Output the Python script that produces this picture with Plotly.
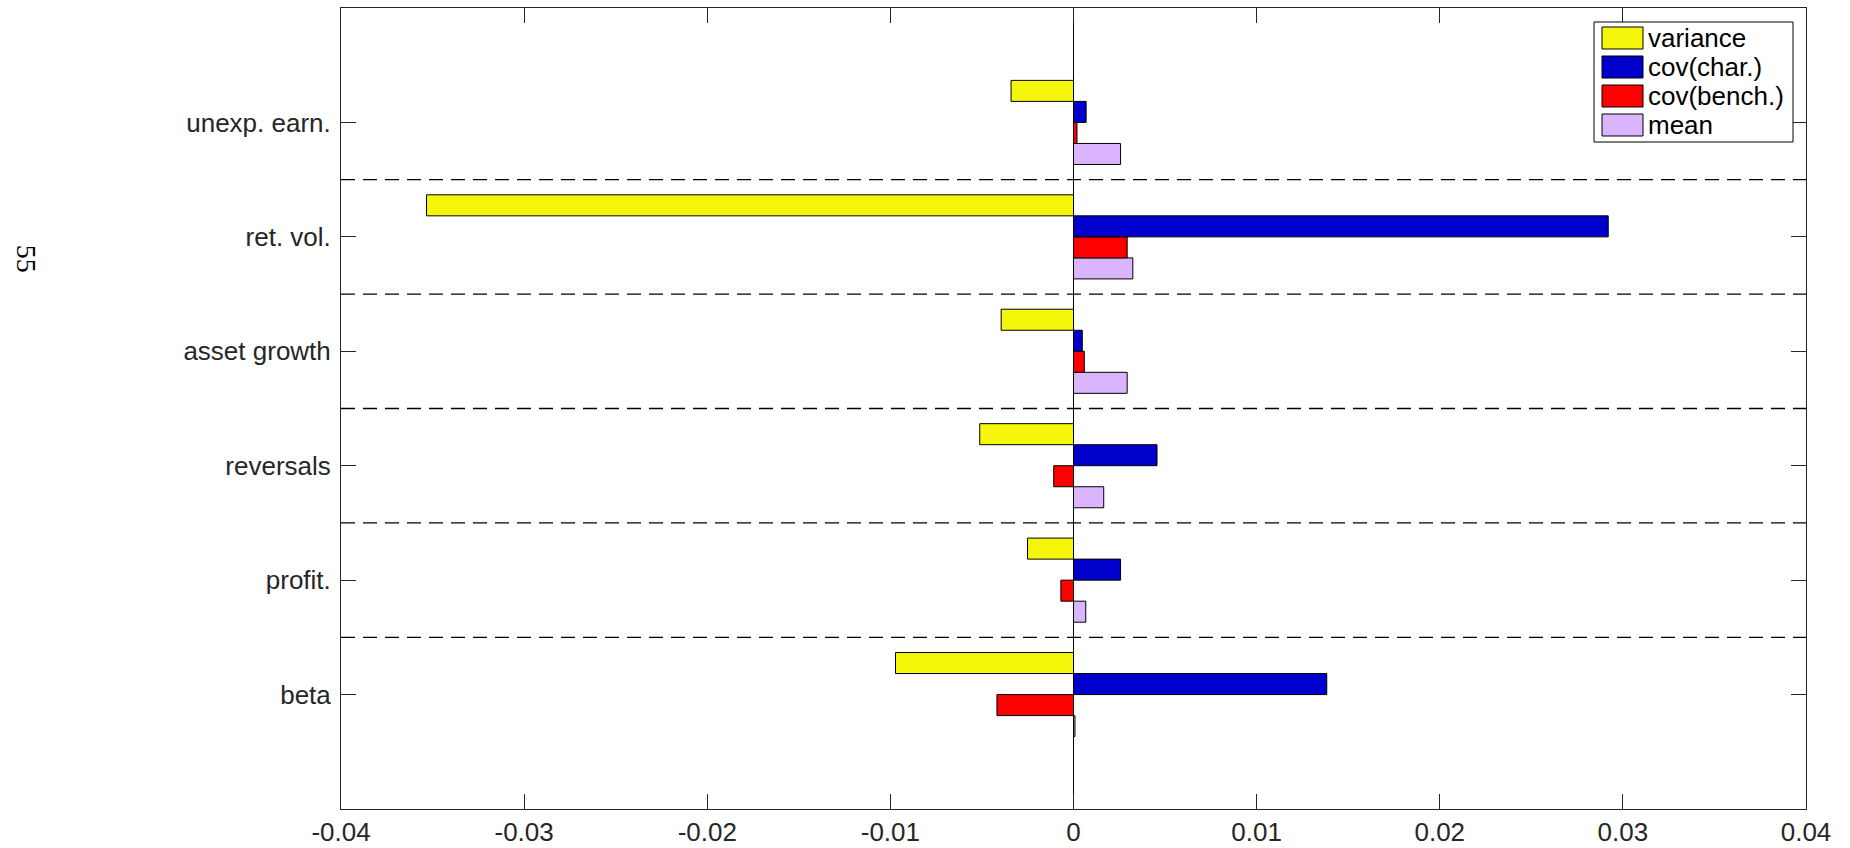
import plotly.graph_objects as go

# Categories, bottom to top
categories = ["beta", "profit.", "reversals", "asset growth", "ret. vol.", "unexp. earn."]
cat_pos = [1, 2, 3, 4, 5, 6]

variance = [-0.00972, -0.00251, -0.00512, -0.00395, -0.03533, -0.00341]
cov_char = [0.01383, 0.00257, 0.00456, 0.00048, 0.0292, 0.00069]
cov_bench = [-0.00418, -0.00069, -0.00108, 0.00059, 0.00293, 0.00019]
mean_vals = [0.00008, 0.00067, 0.00165, 0.00293, 0.00324, 0.00257]

series_names = ["variance", "cov(char.)", "cov(bench.)", "mean"]
series_values = [variance, cov_char, cov_bench, mean_vals]
series_colors = ["#F6F60A", "#0000CC", "#FF0000", "#DAB4FF"]

x_tick_vals = [-0.04, -0.03, -0.02, -0.01, 0, 0.01, 0.02, 0.03, 0.04]
x_tick_labels = ["-0.04", "-0.03", "-0.02", "-0.01", "0", "0.01", "0.02", "0.03", "0.04"]

FONT = "Liberation Sans, Arial, Helvetica, sans-serif"
AXC = "#262626"

W, H = 1850, 848
L, R, T, B = 341, 44, 8, 39


def px_x(px):
    return (px - L) / (W - L - R)


def px_y(py):
    return 1 - (py - T) / (H - T - B)


fig = go.Figure()
# add in reverse so that 'variance' sits at the top of each group
for name, vals, col in reversed(list(zip(series_names, series_values, series_colors))):
    fig.add_trace(go.Bar(
        y=cat_pos, x=vals, name=name, orientation="h", showlegend=False,
        marker=dict(color=col, line=dict(color="black", width=1)),
    ))

# dashed separators between categories
for p in cat_pos[:-1]:
    fig.add_shape(type="line", xref="x", yref="y",
                  x0=x_tick_vals[0], x1=x_tick_vals[-1], y0=p + 0.5, y1=p + 0.5,
                  line=dict(color="black", width=1.3, dash="14px,8px"), layer="below")

# legend box (MATLAB style, wide swatches)
fig.add_shape(type="rect", xref="paper", yref="paper",
              x0=px_x(1594), x1=px_x(1793), y0=px_y(142), y1=px_y(22),
              line=dict(color="black", width=1), fillcolor="white", layer="above")
for i, (name, col) in enumerate(zip(series_names, series_colors)):
    top = 27 + 29 * i
    fig.add_shape(type="rect", xref="paper", yref="paper",
                  x0=px_x(1602), x1=px_x(1643), y0=px_y(top + 22), y1=px_y(top),
                  line=dict(color="black", width=1), fillcolor=col, layer="above")
    fig.add_annotation(text=name, xref="paper", yref="paper",
                       x=px_x(1646), y=px_y(top + 11), xanchor="left", yanchor="middle",
                       showarrow=False,
                       font=dict(family=FONT, size=26, color="black"))

fig.add_annotation(text="55", xref="paper", yref="paper", x=-0.227, y=0.707,
                   showarrow=False, textangle=90,
                   font=dict(family="Liberation Serif, serif", size=28, color="black"))

fig.update_layout(
    width=W, height=H,
    margin=dict(l=L, r=R, t=T, b=B, autoexpand=False),
    paper_bgcolor="white", plot_bgcolor="white",
    barmode="group", bargap=0.265, bargroupgap=0,
    showlegend=False,
    font=dict(family=FONT, size=26, color=AXC),
    xaxis=dict(range=[x_tick_vals[0], x_tick_vals[-1]], tickvals=x_tick_vals,
               ticktext=x_tick_labels, ticks="inside", ticklen=15, tickcolor=AXC,
               showline=True, linecolor=AXC, linewidth=1, mirror="ticks",
               showgrid=False, zeroline=True, zerolinecolor="black", zerolinewidth=1,
               automargin=False,
               tickfont=dict(family=FONT, size=26, color=AXC)),
    yaxis=dict(range=[0, 7], tickvals=cat_pos, ticktext=categories,
               ticks="inside", ticklen=15, tickcolor=AXC, ticklabelstandoff=4,
               showline=True, linecolor=AXC, linewidth=1, mirror="ticks",
               showgrid=False, zeroline=False, automargin=False,
               tickfont=dict(family=FONT, size=26, color=AXC)),
)

fig.write_html("out.html", config={"displayModeBar": False},
               post_script="document.body.style.margin='0';")
